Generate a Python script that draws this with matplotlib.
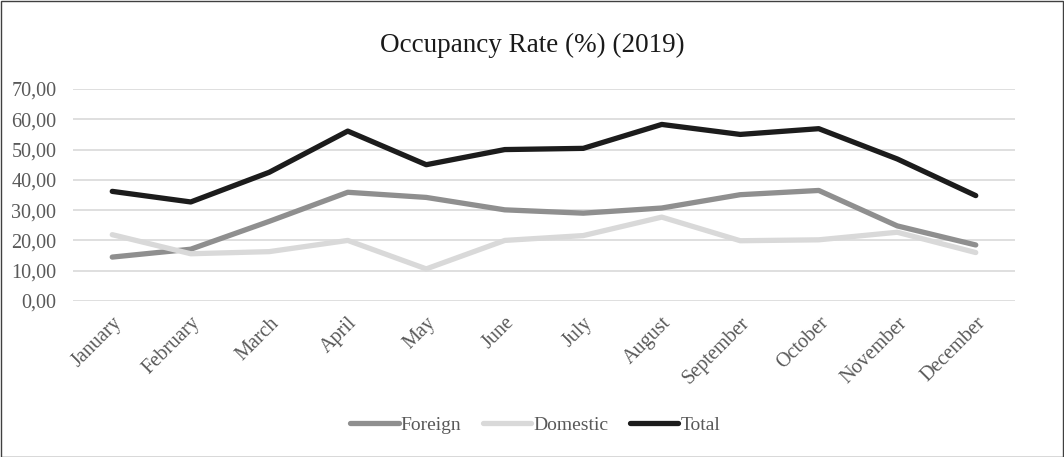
import matplotlib
matplotlib.use("Agg")
import matplotlib.pyplot as plt
from matplotlib.patches import Rectangle

months = ["January", "February", "March", "April", "May", "June", "July",
          "August", "September", "October", "November", "December"]
foreign = [14.5, 17.1, 26.3, 35.9, 34.2, 30.1, 29.0, 30.7, 35.1, 36.5, 24.8, 18.5]
domestic = [21.9, 15.6, 16.3, 20.0, 10.6, 20.0, 21.6, 27.7, 19.9, 20.2, 22.7, 16.0]
total = [36.2, 32.7, 42.5, 56.1, 45.0, 50.0, 50.4, 58.3, 55.0, 56.9, 46.9, 34.8]
yticks = [0, 10, 20, 30, 40, 50, 60, 70]
ytick_labels = ["0,00", "10,00", "20,00", "30,00", "40,00", "50,00", "60,00", "70,00"]

plt.rcParams['font.family'] = ['Liberation Serif', 'DejaVu Serif']

fig = plt.figure(figsize=(10.64, 4.57), dpi=100)
ax = fig.add_axes([73/1064, (457-301)/457, (1015-73)/1064, (301-89)/457])

x = list(range(len(months)))
lw = 3.8
ax.plot(x, foreign, color="#8f8f8f", lw=lw, solid_capstyle="round", solid_joinstyle="round", label="Foreign", zorder=3)
ax.plot(x, domestic, color="#d9d9d9", lw=lw, solid_capstyle="round", solid_joinstyle="round", label="Domestic", zorder=3)
ax.plot(x, total, color="#1c1c1c", lw=lw, solid_capstyle="round", solid_joinstyle="round", label="Total", zorder=3)

ax.set_xlim(-0.5, 11.5)
ax.set_ylim(0, 70)
ax.set_yticks(yticks)
ax.set_yticklabels(ytick_labels)
ax.set_xticks(x)
ax.set_xticklabels(months, rotation=45, ha="right", rotation_mode="anchor")
ax.tick_params(axis="both", length=0, labelsize=14.5, colors="#595959")
ax.tick_params(axis="x", pad=9)
ax.tick_params(axis="y", pad=12)
ax.grid(axis="y", color="#d9d9d9", lw=1.2)
ax.set_axisbelow(True)
for s in ax.spines.values():
    s.set_visible(False)

fig.text(0.5, 1 - 45/457, "Occupancy Rate (%) (2019)", ha="center", va="center",
         fontsize=19.5, color="#1a1a1a")

leg = fig.legend(loc="center", bbox_to_anchor=(0.503, 1 - 425/457), ncol=3, frameon=False,
                 fontsize=14, handlelength=2.5, handletextpad=0.1, columnspacing=1.1)
for t in leg.get_texts():
    t.set_color("#595959")

fig.patches.append(Rectangle((0.5/1064, 0.5/457), 1 - 1.5/1064, 1 - 1.5/457,
                             transform=fig.transFigure, fill=False, edgecolor="#404040", lw=1.0))

fig.savefig("out.png", dpi=100)
